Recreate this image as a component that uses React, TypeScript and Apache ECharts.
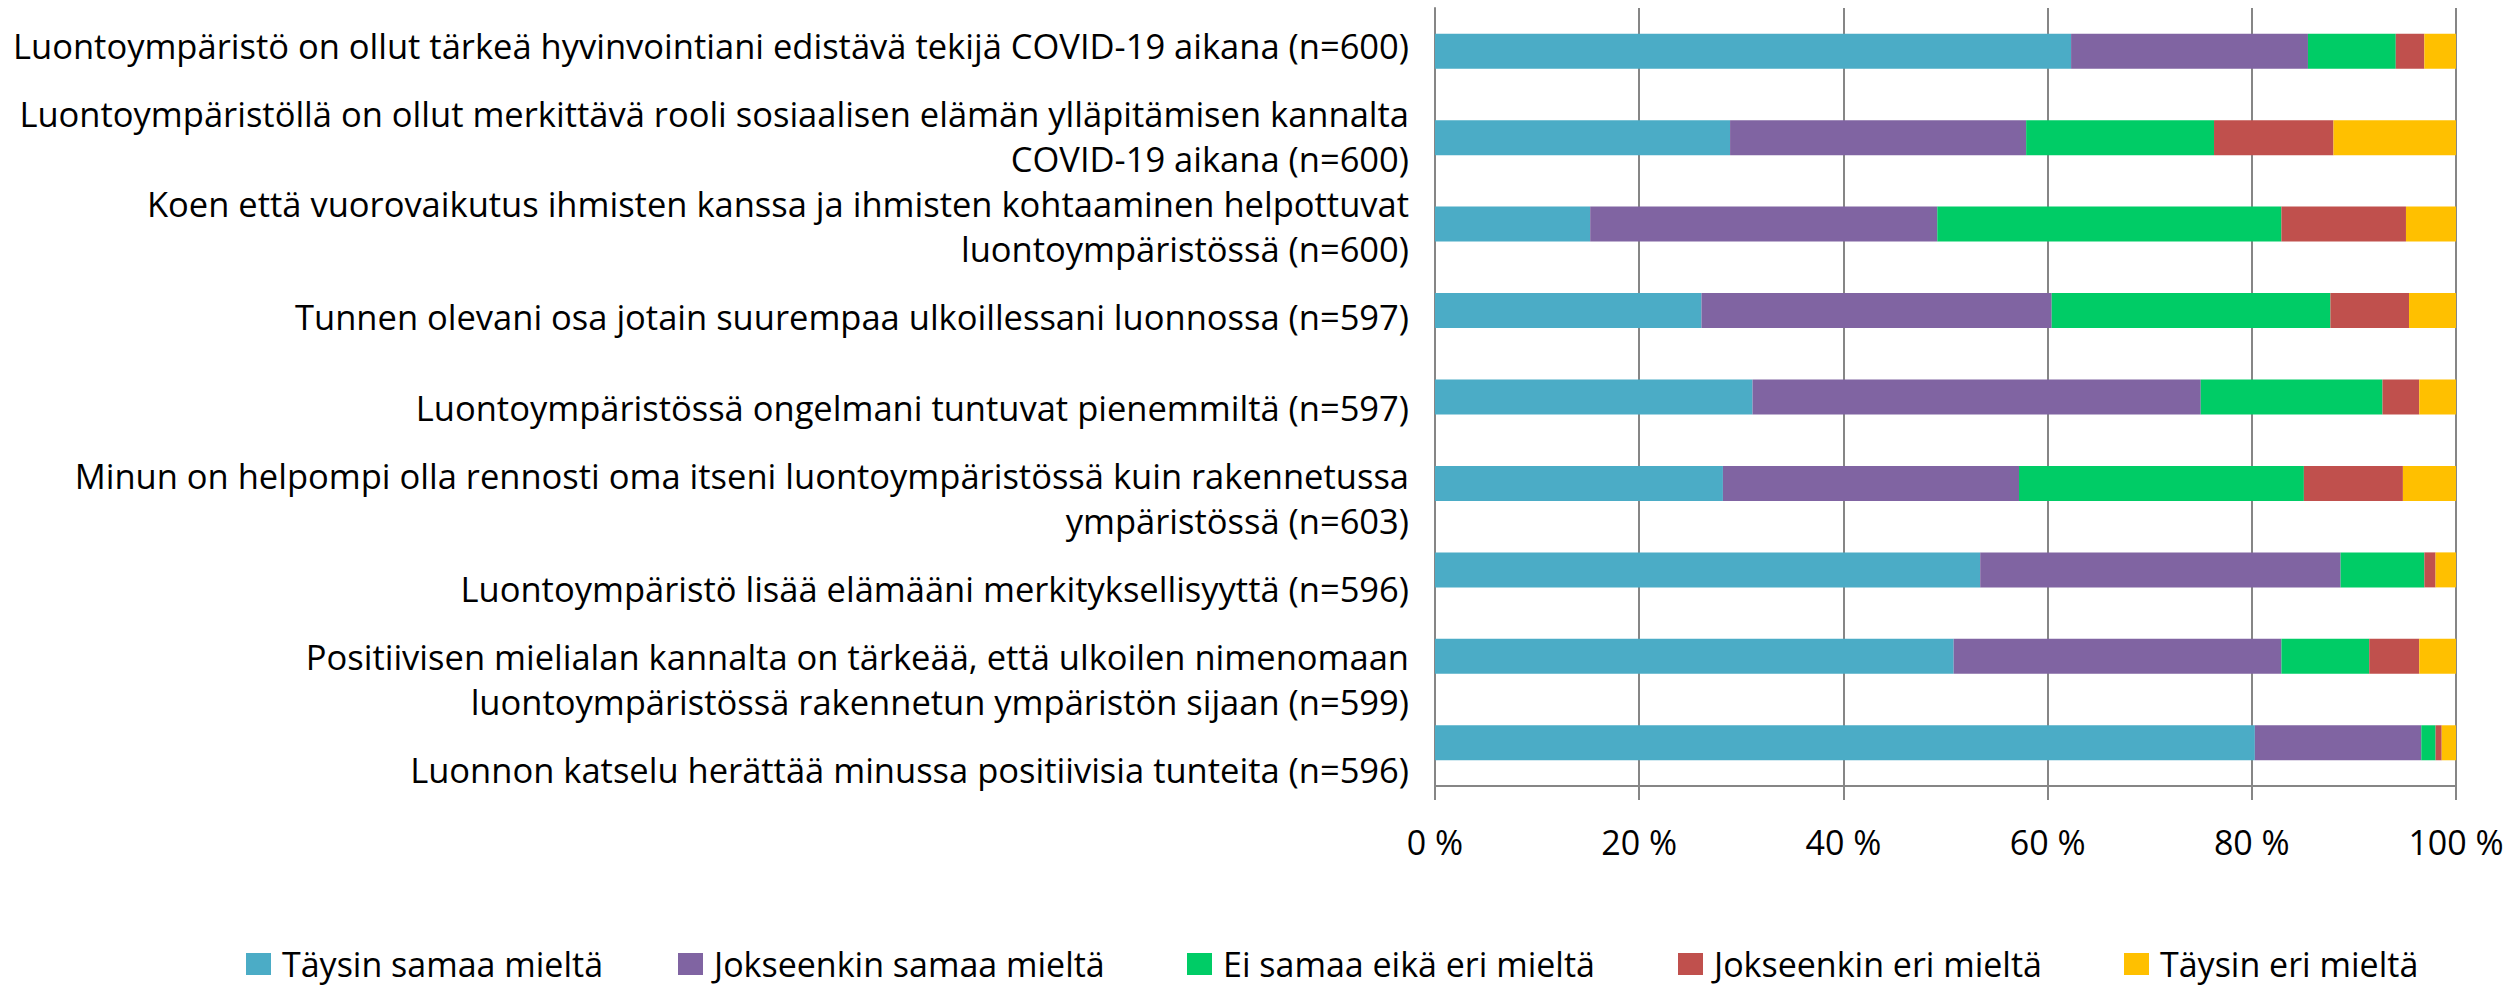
import React, { useEffect, useRef } from "react";
import * as echarts from "echarts";

const categories = [
  "Luontoympäristö on ollut tärkeä hyvinvointiani edistävä tekijä COVID-19 aikana (n=600)",
  "Luontoympäristöllä on ollut merkittävä rooli sosiaalisen elämän ylläpitämisen kannalta\nCOVID-19 aikana (n=600)",
  "Koen että vuorovaikutus ihmisten kanssa ja ihmisten kohtaaminen helpottuvat\nluontoympäristössä (n=600)",
  "Tunnen olevani osa jotain suurempaa ulkoillessani luonnossa (n=597)",
  "Luontoympäristössä ongelmani tuntuvat pienemmiltä (n=597)",
  "Minun on helpompi olla rennosti oma itseni luontoympäristössä kuin rakennetussa\nympäristössä (n=603)",
  "Luontoympäristö lisää elämääni merkityksellisyyttä (n=596)",
  "Positiivisen mielialan kannalta on tärkeää, että ulkoilen nimenomaan\nluontoympäristössä rakennetun ympäristön sijaan (n=599)",
  "Luonnon katselu herättää minussa positiivisia tunteita (n=596)",
];

const seriesNames = [
  "Täysin samaa mieltä",
  "Jokseenkin samaa mieltä",
  "Ei samaa eikä eri mieltä",
  "Jokseenkin eri mieltä",
  "Täysin eri mieltä",
];

const taysinSamaa = [62.3, 28.9, 15.2, 26.1, 31.1, 28.2, 53.4, 50.8, 80.3];
const jokseenkinSamaa = [23.2, 29.0, 34.0, 34.3, 43.9, 29.0, 35.3, 32.1, 16.3];
const eiSamaaEikaEri = [8.6, 18.4, 33.7, 27.3, 17.8, 27.9, 8.2, 8.6, 1.4];
const jokseenkinEri = [2.8, 11.7, 12.2, 7.7, 3.6, 9.7, 1.1, 4.9, 0.6];
const taysinEri = [3.1, 12.0, 4.9, 4.6, 3.6, 5.2, 2.0, 3.6, 1.4];

const seriesValues = [taysinSamaa, jokseenkinSamaa, eiSamaaEikaEri, jokseenkinEri, taysinEri];
const colors = ["#4BACC6", "#8064A2", "#00CC66", "#C0504D", "#FFC000"];

const xTicks = { min: 0, max: 100, interval: 20 };
const legendLeft = [246, 678, 1187, 1678, 2124];

const FONT = "Open Sans";
const GRID_COLOR = "#868686";

export default function App() {
  const ref = useRef<HTMLDivElement>(null);

  useEffect(() => {
    if (!ref.current) return;
    const chart = echarts.init(ref.current, undefined, { renderer: "svg" });
    const option: any = {
      animation: false,
      backgroundColor: "#ffffff",
      textStyle: { fontFamily: FONT, color: "#000" },
      grid: [
        { left: 1435, right: 58, top: 8, bottom: 202, containLabel: false },
        { left: 1435, right: 58, top: -3.4, bottom: 173.6, containLabel: false },
      ],
      legend: seriesNames.map((n, i) => ({
        data: [n],
        left: legendLeft[i],
        top: 947,
        padding: 0,
        itemWidth: 25,
        itemHeight: 22,
        icon: "rect",
        textStyle: {
          fontFamily: FONT,
          fontSize: 34,
          lineHeight: 32,
          color: "#000",
          padding: [0, 0, 0, 6],
        },
        selectedMode: false,
      })),
      xAxis: [
        {
          type: "value",
          gridIndex: 0,
          min: xTicks.min,
          max: xTicks.max,
          interval: xTicks.interval,
          axisLine: { show: true, lineStyle: { color: GRID_COLOR, width: 2 } },
          axisTick: { show: true, length: 14, lineStyle: { color: GRID_COLOR, width: 2 } },
          splitLine: { show: true, lineStyle: { color: GRID_COLOR, width: 2 } },
          axisLabel: {
            formatter: "{value} %",
            fontFamily: FONT,
            fontSize: 34,
            color: "#000",
            margin: 40,
            lineHeight: 32,
          },
        },
        { type: "value", gridIndex: 1, min: 0, max: 100, show: false },
      ],
      yAxis: [
        {
          type: "category",
          gridIndex: 0,
          data: categories,
          inverse: true,
          axisLine: { show: true, lineStyle: { color: GRID_COLOR, width: 2 } },
          axisTick: { show: false },
          axisLabel: { show: false },
        },
        {
          type: "category",
          gridIndex: 1,
          data: categories,
          inverse: true,
          axisLine: { show: false },
          axisTick: { show: false },
          splitLine: { show: false },
          axisLabel: {
            show: true,
            margin: 26,
            fontFamily: FONT,
            fontSize: 34.5,
            lineHeight: 45,
            color: "#000",
            align: "right",
          },
        },
      ],
      series: seriesNames.map((name, i) => ({
        name,
        type: "bar",
        stack: "total",
        xAxisIndex: 0,
        yAxisIndex: 0,
        barWidth: 35,
        itemStyle: { color: colors[i] },
        data: seriesValues[i],
      })),
    };
    chart.setOption(option);
    return () => chart.dispose();
  }, []);

  return (
    <div
      ref={ref}
      style={{ position: "fixed", left: 0, top: 0, width: 2514, height: 988, background: "#fff" }}
    />
  );
}
